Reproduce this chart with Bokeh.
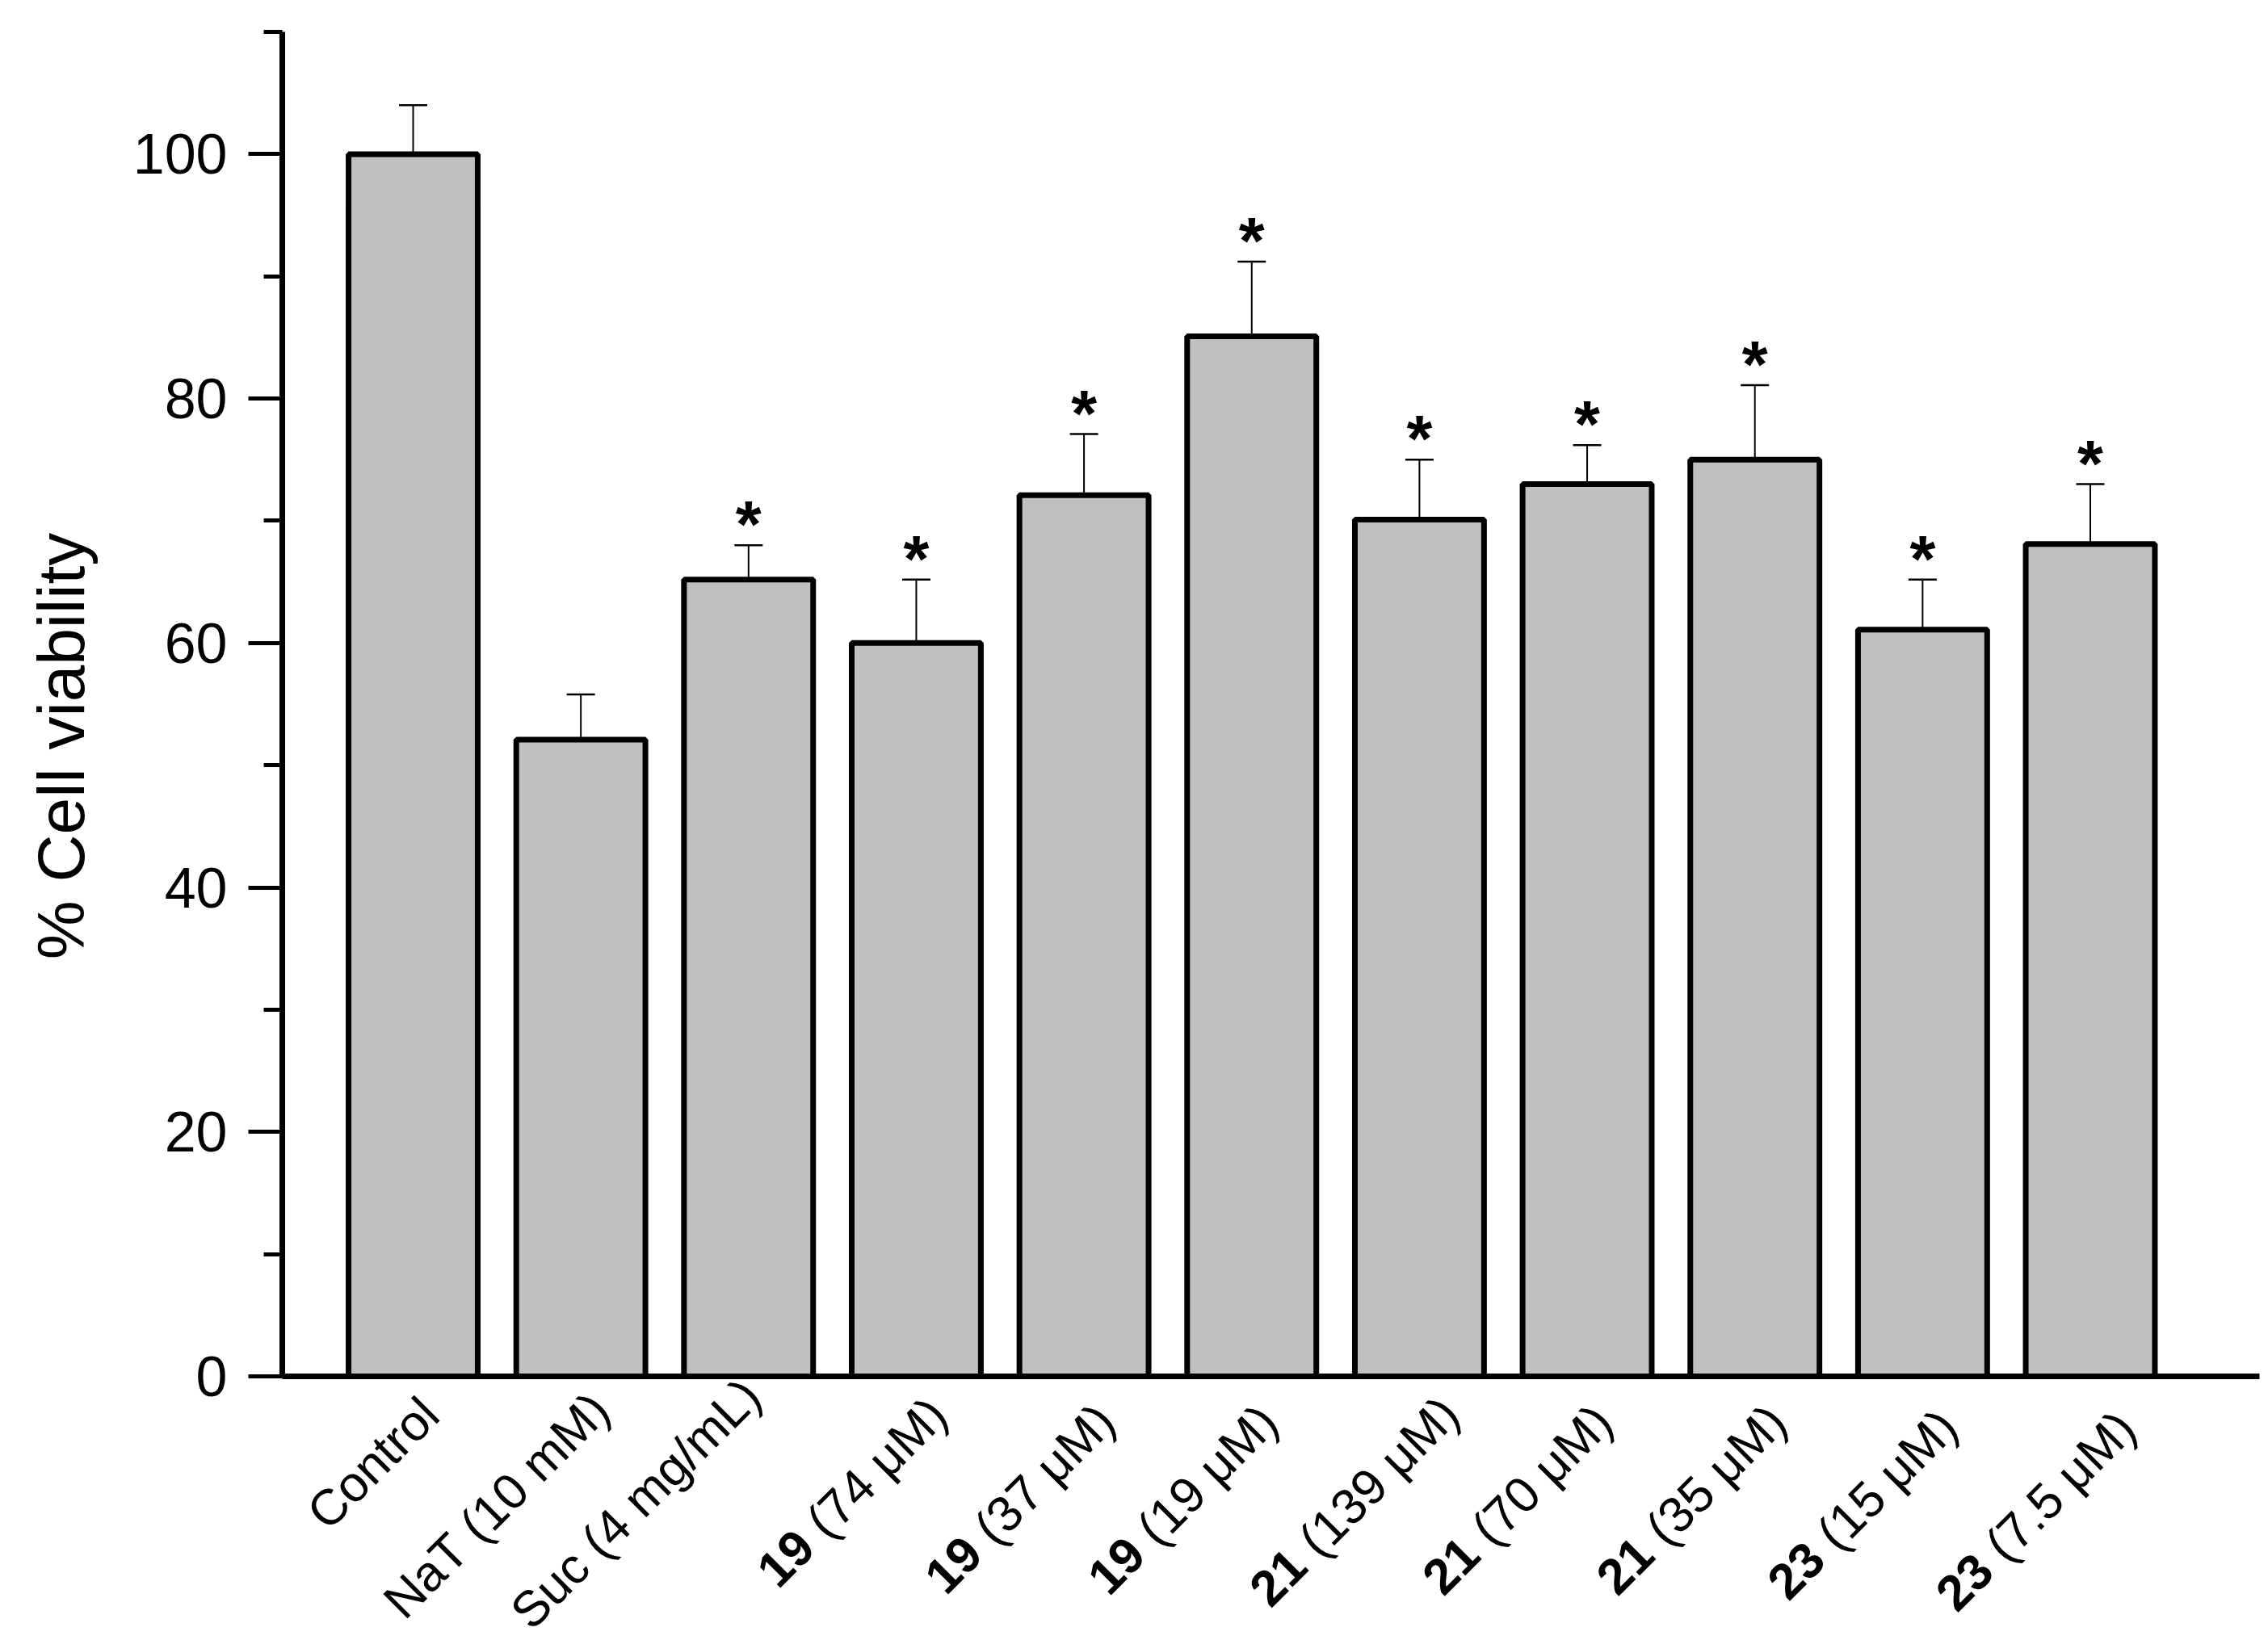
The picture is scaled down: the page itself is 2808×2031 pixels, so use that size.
import math
from bokeh.plotting import figure
from bokeh.models import (Range1d, SingleIntervalTicker, FixedTicker, ColumnDataSource,
                          LabelSet, Label)
from bokeh.core.properties import value
from bokeh.embed import file_html
from bokeh.resources import INLINE

# ---------------- data ----------------
label_bold = ["", "", "", "19", "19", "19", "21", "21", "21", "23", "23"]
label_rest = ["Control", "NaT (10 mM)", "Suc (4 mg/mL)", "(74 μM)", "(37 μM)", "(19 μM)",
              "(139 μM)", "(70 μM)", "(35 μM)", "(15 μM)", "(7.5 μM)"]
viability = [100.0, 52.1, 65.2, 60.0, 72.1, 85.1, 70.1, 73.0, 75.0, 61.1, 68.1]
sem = [4.0, 3.7, 2.8, 5.2, 5.0, 6.1, 4.9, 3.2, 6.1, 4.1, 4.9]
significant = [False, False, True, True, True, True, True, True, True, True, True]
y_label = "% Cell viability"
y_start, y_end = 0, 110

# ---------------- layout (pixels on the page) ----------------
FONT = "Liberation Sans"
W, H = 2808, 2031
X0, PXU = 511.0, 207.65      # px of first bar centre, px per category
Y0, PYU = 1704.0, 15.136     # px of value 0, px per unit
AXIS_X_PX, AXIS_RIGHT_PX = 349.0, 2797.0
# nudge (px right, px down) of each rotated label's end from its bar centre on the axis
label_nudge = [(36, 52), (40, 45), (19, 29), (42, 52), (42, 60), (36, 61),
               (53, 51), (35, 61), (43, 61), (47, 67), (60, 69)]

def xdata(px):
    return (px - X0) / PXU

p = figure(width=W, height=H, output_backend="svg", toolbar_location=None,
           x_range=Range1d(xdata(0), xdata(W)),
           y_range=Range1d((Y0 - H) / PYU, Y0 / PYU),
           min_border=0)
p.outline_line_color = None
p.xgrid.grid_line_color = None
p.ygrid.grid_line_color = None
p.background_fill_color = "white"
p.border_fill_color = "white"

# y axis
ya = p.yaxis[0]
ya.fixed_location = xdata(AXIS_X_PX)
ya.bounds = (y_start, y_end)
ya.ticker = SingleIntervalTicker(interval=20, num_minor_ticks=2)
ya.axis_line_width = 7
ya.axis_line_color = "black"
ya.major_tick_line_width = 5
ya.minor_tick_line_width = 5
ya.major_tick_out = 42
ya.major_tick_in = 0
ya.minor_tick_out = 23
ya.minor_tick_in = 0
ya.major_label_standoff = 26
ya.major_label_text_font = FONT
ya.major_label_text_font_size = "70px"
ya.major_label_text_color = "black"

# x axis: line only, at value 0
xa = p.xaxis[0]
xa.fixed_location = 0
xa.bounds = (xdata(AXIS_X_PX), xdata(AXIS_RIGHT_PX))
xa.ticker = FixedTicker(ticks=[])
xa.axis_line_width = 7
xa.axis_line_color = "black"
xa.major_tick_line_color = None
xa.minor_tick_line_color = None
xa.major_label_text_font_size = "0px"

idx = list(range(len(viability)))
upper = [v + e for v, e in zip(viability, sem)]

src = ColumnDataSource(dict(x=idx, top=viability, up=upper))
p.vbar(x="x", top="top", bottom=0, width=0.77, source=src,
       fill_color="#C0C0C0", line_color="black", line_width=7)
p.segment(x0="x", y0="top", x1="x", y1="up", source=src, line_color="black", line_width=2)
p.scatter(x="x", y="up", source=src, marker="dash", size=35, line_color="black", line_width=2.5)

# asterisks
sx = [i for i, s in zip(idx, significant) if s]
sy = [u for u, s in zip(upper, significant) if s]
ast = ColumnDataSource(dict(x=sx, y=sy, t=["*"] * len(sx)))
p.add_layout(LabelSet(x="x", y="y", text="t", source=ast, text_align="center",
                      text_baseline="alphabetic", y_offset=-2,
                      text_font=value(FONT), text_font_style="bold", text_font_size="82px",
                      text_color="black"))

# rotated category labels (bold compound number + normal rest)
CW = {'(': .333, ')': .333, ' ': .278, '.': .278, 'μ': .576, 'M': .833, 'm': .833,
      'g': .556, '/': .278, 'L': .556}
def width_em(s):
    return sum(CW.get(ch, .556) for ch in s)

LS = 62
ang = math.pi / 4
c = math.cos(ang)
rest_xo = [dx for dx, dy in label_nudge]
rest_yo = [-dy for dx, dy in label_nudge]
bold_x, bold_t, bold_xo, bold_yo = [], [], [], []
for i, (b, r) in enumerate(zip(label_bold, label_rest)):
    if b:
        w = (width_em(r) + width_em(" ")) * LS
        bold_x.append(i)
        bold_t.append(b)
        bold_xo.append(rest_xo[i] - w * c)
        bold_yo.append(rest_yo[i] - w * c)

rsrc = ColumnDataSource(dict(x=idx, y=[0] * len(idx), t=label_rest, xo=rest_xo, yo=rest_yo))
p.add_layout(LabelSet(x="x", y="y", text="t", source=rsrc, x_offset="xo", y_offset="yo",
                      angle=ang, text_align="right", text_baseline="alphabetic",
                      text_font=value(FONT), text_font_size=f"{LS}px", text_color="black"))
bsrc = ColumnDataSource(dict(x=bold_x, y=[0] * len(bold_x), t=bold_t, xo=bold_xo, yo=bold_yo))
p.add_layout(LabelSet(x="x", y="y", text="t", source=bsrc, x_offset="xo", y_offset="yo",
                      angle=ang, text_align="right", text_baseline="alphabetic",
                      text_font=value(FONT), text_font_style="bold", text_font_size=f"{LS}px",
                      text_color="black"))

# y axis title
p.add_layout(Label(x=xdata(AXIS_X_PX), y=(y_start + y_end) / 2, x_offset=-274, y_offset=-52,
                   text=y_label, angle=math.pi / 2, text_align="center",
                   text_baseline="alphabetic", text_font=FONT, text_font_size="82px",
                   text_color="black"))

open("out.html", "w").write(file_html(p, INLINE))
